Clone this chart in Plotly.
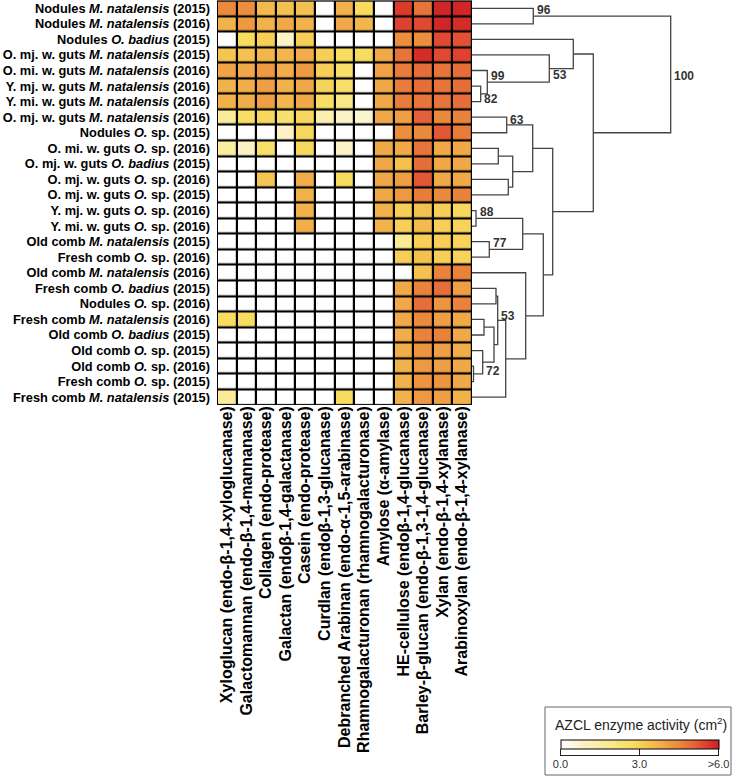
import plotly.graph_objects as go

W, H = 733, 777

row_labels = [
    "Nodules <i>M. natalensis</i> (2015)",
    "Nodules <i>M. natalensis</i> (2016)",
    "Nodules <i>O. badius</i> (2015)",
    "O. mj. w. guts <i>M. natalensis</i> (2015)",
    "O. mi. w. guts <i>M. natalensis</i> (2016)",
    "Y. mj. w. guts <i>M. natalensis</i> (2016)",
    "Y. mi. w. guts <i>M. natalensis</i> (2016)",
    "O. mj. w. guts <i>M. natalensis</i> (2016)",
    "Nodules <i>O.</i> sp. (2015)",
    "O. mi. w. guts <i>O.</i> sp. (2016)",
    "O. mj. w. guts <i>O. badius</i> (2015)",
    "O. mj. w. guts <i>O.</i> sp. (2016)",
    "O. mj. w. guts <i>O.</i> sp. (2015)",
    "Y. mj. w. guts <i>O.</i> sp. (2016)",
    "Y. mi. w. guts <i>O.</i> sp. (2016)",
    "Old comb <i>M. natalensis</i> (2015)",
    "Fresh comb <i>O.</i> sp. (2016)",
    "Old comb <i>M. natalensis</i> (2016)",
    "Fresh comb <i>O. badius</i> (2015)",
    "Nodules <i>O.</i> sp. (2016)",
    "Fresh comb <i>M. natalensis</i> (2016)",
    "Old comb <i>O. badius</i> (2015)",
    "Old comb <i>O.</i> sp. (2015)",
    "Old comb <i>O.</i> sp. (2016)",
    "Fresh comb <i>O.</i> sp. (2015)",
    "Fresh comb <i>M. natalensis</i> (2015)",
]

col_labels = [
    "Xyloglucan (endo-β-1,4-xyloglucanase)",
    "Galactomannan (endo-β-1,4-mannanase)",
    "Collagen (endo-protease)",
    "Galactan (endoβ-1,4-galactanase)",
    "Casein (endo-protease)",
    "Curdlan (endoβ-1,3-glucanase)",
    "Debranched Arabinan (endo-α-1,5-arabinase)",
    "Rhamnogalacturonan (rhamnogalacturonase)",
    "Amylose (α-amylase)",
    "HE-cellulose (endoβ-1,4-glucanase)",
    "Barley-β-glucan (endo-β-1,3-1,4-glucanase)",
    "Xylan (endo-β-1,4-xylanase)",
    "Arabinoxylan (endo-β-1,4-xylanase)",
]

activity = [
    [4.5, 4.4, 3.5, 3.4, 3.4, 0.0, 3.7, 2.8, 0.0, 5.6, 4.8, 5.9, 5.9],
    [3.7, 4.2, 3.7, 3.9, 3.7, 0.0, 3.9, 3.6, 0.0, 5.5, 5.4, 5.9, 5.8],
    [0.0, 2.8, 3.1, 0.8, 3.1, 0.0, 0.0, 0.0, 0.0, 4.4, 4.4, 5.4, 5.3],
    [3.3, 3.4, 3.6, 3.6, 3.8, 3.1, 2.8, 2.8, 3.9, 4.8, 5.8, 5.4, 5.5],
    [4.0, 3.9, 4.2, 3.8, 4.2, 3.1, 2.6, 0.0, 4.0, 4.7, 4.9, 4.8, 4.9],
    [3.7, 3.8, 4.1, 3.7, 3.9, 3.0, 2.6, 0.0, 3.9, 4.7, 4.9, 4.8, 4.9],
    [3.7, 3.8, 4.1, 3.6, 3.9, 2.7, 2.0, 0.0, 3.9, 4.7, 4.8, 4.8, 4.9],
    [1.6, 2.7, 2.9, 2.5, 2.9, 1.2, 0.8, 0.7, 3.9, 4.1, 5.1, 4.5, 4.6],
    [0.0, 0.0, 0.0, 0.8, 2.9, 0.0, 0.0, 0.0, 0.0, 4.4, 4.5, 5.2, 4.7],
    [1.5, 0.9, 2.6, 0.0, 2.9, 0.0, 0.8, 0.0, 3.9, 3.9, 4.8, 3.9, 3.9],
    [0.0, 0.0, 0.0, 0.0, 0.0, 0.0, 0.0, 0.0, 3.9, 3.4, 4.9, 3.9, 3.9],
    [0.0, 0.0, 3.3, 0.0, 3.8, 0.0, 2.8, 0.0, 3.9, 4.1, 5.2, 3.9, 3.9],
    [0.0, 0.0, 0.0, 0.0, 3.7, 0.0, 0.0, 0.0, 3.9, 4.2, 4.7, 4.5, 4.6],
    [0.0, 0.0, 0.0, 0.0, 3.7, 0.0, 0.0, 0.0, 3.7, 3.1, 3.4, 3.1, 2.9],
    [0.0, 0.0, 0.0, 0.0, 3.8, 0.0, 0.0, 0.0, 3.7, 3.1, 3.5, 3.1, 3.0],
    [0.0, 0.0, 0.0, 0.0, 0.0, 0.0, 0.0, 0.0, 0.0, 1.7, 3.1, 3.1, 3.0],
    [0.0, 0.0, 0.0, 0.0, 0.0, 0.0, 0.0, 0.0, 0.0, 3.1, 3.4, 3.1, 3.0],
    [0.0, 0.0, 0.0, 0.0, 0.0, 0.0, 0.0, 0.0, 0.0, 0.0, 3.4, 4.6, 4.6],
    [0.0, 0.0, 0.0, 0.0, 0.0, 0.0, 0.0, 0.0, 0.0, 3.9, 4.6, 4.9, 4.1],
    [0.0, 0.0, 0.0, 0.0, 0.0, 0.0, 0.0, 0.0, 0.0, 3.9, 4.9, 4.3, 4.6],
    [2.8, 2.8, 0.0, 0.0, 0.0, 0.0, 0.0, 0.0, 0.0, 3.9, 4.5, 4.1, 3.9],
    [0.0, 0.0, 0.0, 0.0, 0.0, 0.0, 0.0, 0.0, 0.0, 3.8, 4.6, 4.6, 3.9],
    [0.0, 0.0, 0.0, 0.0, 0.0, 0.0, 0.0, 0.0, 0.0, 3.8, 4.3, 4.1, 3.8],
    [0.0, 0.0, 0.0, 0.0, 0.0, 0.0, 0.0, 0.0, 0.0, 3.7, 4.2, 4.1, 3.9],
    [0.0, 0.0, 0.0, 0.0, 0.0, 0.0, 0.0, 0.0, 0.0, 3.7, 4.3, 4.3, 3.9],
    [1.6, 0.0, 0.0, 0.0, 0.0, 0.0, 2.8, 0.0, 0.0, 3.7, 4.2, 4.1, 3.7],
]

# Dendrogram linkage (leaf ids 0..25, merged nodes 26..)
link_left = [5, 4, 3, 2, 0, 7, 9, 11, 32, 31, 13, 15, 36, 18, 20, 23, 22, 40, 39, 44, 17, 38, 35, 29, 30]
link_right = [6, 26, 27, 28, 1, 8, 10, 12, 33, 34, 14, 16, 37, 19, 21, 24, 41, 42, 43, 25, 45, 46, 47, 48, 49]
link_height = [8.7, 15.3, 77.3, 101.3, 61.3, 34.7, 26.3, 36.3, 40.7, 60.7, 4.0, 17.3, 50.7,
               24.0, 12.0, 1.5, 10.7, 22.0, 25.7, 33.7, 53.7, 71.3, 80.7, 121.3, 198.7]
bootstrap_node = [26, 27, 28, 30, 50, 31, 36, 37, 44, 42]
bootstrap_value = [82, 99, 53, 96, 100, 63, 88, 77, 53, 72]
bootstrap_pos = [0.83, 0.24, 0.74, 0.08, 0.51, 0.15, 0.12, 0.11, 0.41, 0.86]

colorscale = [
    [0.0, "#FFFFFF"],
    [0.133, "#FCF2C8"],
    [0.267, "#FAEC9A"],
    [0.467, "#F7DC60"],
    [0.567, "#F4C050"],
    [0.65, "#F0A848"],
    [0.75, "#EA8A3C"],
    [0.85, "#E4603A"],
    [0.933, "#DC3A2A"],
    [1.0, "#CC2027"],
]

FONT = "Liberation Sans, Arial, sans-serif"

n_rows = len(row_labels)
n_cols = len(col_labels)

# heatmap placement in pixels
hx0, hx1 = 217, 472
hy0, hy1 = 0.5, 405

fig = go.Figure()

fig.add_trace(go.Heatmap(
    z=activity, x=list(range(n_cols)), y=list(range(n_rows)),
    colorscale=colorscale, zmin=0, zmax=6, xgap=2.2, ygap=2.2,
    hoverinfo="skip",
    colorbar=dict(
        orientation="h", lenmode="pixels", len=158, thicknessmode="pixels", thickness=9,
        x=639.5 / W, xanchor="center", y=1 - 740 / H, yanchor="top", ypad=0, xpad=0,
        outlinewidth=1, outlinecolor="black",
        ticks="outside", ticklen=6, tickwidth=1, tickcolor="#222",
        tickvals=[0, 3, 6], ticktext=["0.0", "3.0", ">6.0"],
        tickfont=dict(family=FONT, size=11, color="#333"),
    ),
))

# dendrogram from linkage
node_y = {i: float(i) for i in range(n_rows)}
node_h = {i: 0.0 for i in range(n_rows)}
node_top, node_bot = {}, {}
dx, dy = [], []
for k, (a, b, h) in enumerate(zip(link_left, link_right, link_height)):
    nid = n_rows + k
    ya, yb = node_y[a], node_y[b]
    dx += [node_h[a], h, h, node_h[b], None]
    dy += [ya, ya, yb, yb, None]
    node_y[nid] = (ya + yb) / 2
    node_h[nid] = h
    node_top[nid] = min(ya, yb)
    node_bot[nid] = max(ya, yb)

fig.add_trace(go.Scatter(x=dx, y=dy, xaxis="x2", yaxis="y", mode="lines",
                         line=dict(color="#444444", width=1.3), hoverinfo="skip",
                         showlegend=False))

for nid, val, pos in zip(bootstrap_node, bootstrap_value, bootstrap_pos):
    yt, yb = node_top[nid], node_bot[nid]
    fig.add_annotation(x=node_h[nid], y=yt + (yb - yt) * pos, xref="x2", yref="y",
                       text=f"<b>{val}</b>", showarrow=False, xanchor="left", yanchor="middle",
                       xshift=1.5, font=dict(family=FONT, size=12, color="#333"))

# black backing for grid lines + border
fig.add_shape(type="rect", xref="x", yref="y", x0=-0.5, x1=n_cols - 0.5, y0=-0.5, y1=n_rows - 0.5,
              fillcolor="black", line=dict(width=0), layer="below")
fig.add_shape(type="rect", xref="x", yref="y", x0=-0.5, x1=n_cols - 0.5, y0=-0.5, y1=n_rows - 0.5,
              fillcolor="rgba(0,0,0,0)", line=dict(color="black", width=1.5))

# colorbar box, axis line and title
fig.add_shape(type="rect", xref="paper", yref="paper", x0=545 / W, x1=731 / W,
              y0=1 - 775 / H, y1=1 - 707 / H, line=dict(color="#666", width=1))
fig.add_shape(type="line", xref="paper", yref="paper", x0=560 / W, x1=719 / W,
              y0=1 - 755.5 / H, y1=1 - 755.5 / H, line=dict(color="#222", width=1))
fig.add_annotation(x=641 / W, y=1 - 723.5 / H, xref="paper", yref="paper",
                   text="AZCL enzyme activity (cm<sup>2</sup>)", showarrow=False,
                   xanchor="center", yanchor="middle",
                   font=dict(family=FONT, size=14, color="#222"))

fig.update_layout(
    width=W, height=H, margin=dict(l=0, r=0, t=0, b=0),
    paper_bgcolor="white", plot_bgcolor="white", showlegend=False,
    xaxis=dict(domain=[hx0 / W, hx1 / W], range=[-0.5, n_cols - 0.5],
               tickvals=list(range(n_cols)), ticktext=[f"<b>{t}</b>" for t in col_labels],
               tickangle=-90, ticks="", showgrid=False, zeroline=False, showline=False,
               tickfont=dict(family=FONT, size=16, color="black"), ticklabelstandoff=-3),
    yaxis=dict(domain=[1 - hy1 / H, 1 - hy0 / H], range=[n_rows - 0.5, -0.5],
               tickvals=list(range(n_rows)), ticktext=[f"<b>{t}</b>" for t in row_labels],
               ticks="", showgrid=False, zeroline=False, showline=False,
               tickfont=dict(family=FONT, size=12.8, color="black"), ticklabelstandoff=6),
    xaxis2=dict(domain=[hx1 / W, 1.0], range=[0, W - hx1], anchor="y", visible=False),
)

fig.write_html("out.html", config={"displayModeBar": False},
               post_script="document.body.style.margin='0';document.body.style.overflow='hidden';")
